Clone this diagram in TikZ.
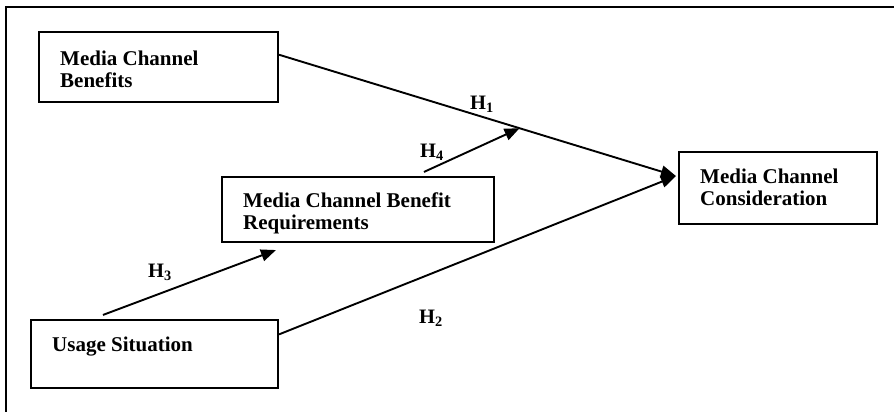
\documentclass[tikz,border=0pt]{standalone}
\usepackage{fontspec}
\setmainfont{Liberation Serif}
\usetikzlibrary{calc,arrows.meta}
\begin{document}
\begin{tikzpicture}[x=1pt,y=-1pt,
  box/.style={draw=black,line width=2.1pt,inner sep=0pt,minimum width=#1},
  boxtext/.style={anchor=north west,inner sep=0pt,align=left,font=\bfseries\fontsize{21}{22.5}\selectfont},
  hlab/.style={inner sep=0pt,font=\bfseries\fontsize{20.5}{22}\selectfont},
  arr/.style={line width=1.9pt,-{Triangle[length=15pt,width=12pt]}}]
\useasboundingbox (0,0) rectangle (894,412);
% frame
\draw[line width=2.3pt] (6,412) -- (6,7) -- (894,7);
% boxes
\node[box=239pt,minimum height=70pt] (mcb) at (158.5,67) {};
\node[box=272pt,minimum height=65pt] (mcbr) at (358,209.5) {};
\node[box=198pt,minimum height=72pt] (mcc) at (778,188) {};
\node[box=247pt,minimum height=68pt] (us) at (154.5,354) {};
% texts
\node[boxtext] (tmcb) at (60,50.5) {Media Channel\\Benefits};
\node[boxtext] (tmcbr) at (243,192.5) {Media Channel Benefit\\Requirements};
\node[boxtext] (tmcc) at (700,168.5) {Media Channel\\Consideration};
\node[boxtext] (tus) at (52,336.5) {Usage Situation};
% connectors
\coordinate (tip) at ($(mcc.west)+(-2,-12)$);
\draw[arr] ($(mcb.north east)!0.33!(mcb.south east)$) -- coordinate[pos=0.606] (h4end) (tip);
\draw[arr] ($(us.north east)!0.22!(us.south east)$) -- (tip);
\draw[arr] ($(us.north west)+(73,-4)$) -- ($(mcbr.south west)+(55,7)$);
\draw[arr] ($(mcbr.north west)+(203,-4)$) -- (h4end);
% labels
\node[hlab] (h1) at (482,104) {H\textsubscript{1}};
\node[hlab] (h4) at (432,152) {H\textsubscript{4}};
\node[hlab] (h3) at (160,272) {H\textsubscript{3}};
\node[hlab] (h2) at (431,318) {H\textsubscript{2}};
\end{tikzpicture}
\end{document}
